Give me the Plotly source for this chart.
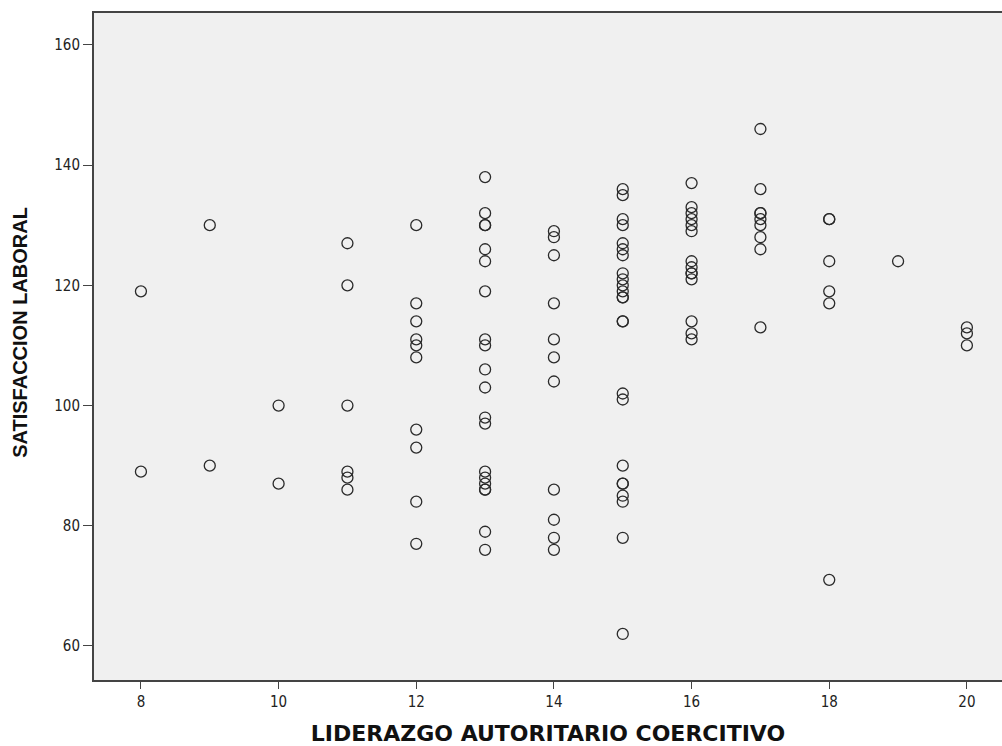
import plotly.graph_objects as go

# Data: x = LIDERAZGO AUTORITARIO COERCITIVO, y = SATISFACCION LABORAL
col8 = [119, 89]
col9 = [130, 90]
col10 = [100, 87]
col11 = [127, 120, 100, 89, 88, 86]
col12 = [130, 117, 114, 111, 110, 108, 96, 93, 84, 77]
col13 = [138, 132, 130, 130, 126, 124, 119, 111, 110, 106, 103, 98, 97, 89, 88, 87, 86, 86, 79, 76]
col14 = [129, 128, 125, 117, 111, 108, 104, 86, 81, 78, 76]
col15 = [136, 135, 131, 130, 127, 126, 125, 122, 121, 120, 119, 118, 118, 114, 114, 102, 101,
         90, 87, 87, 85, 84, 78, 62]
col16 = [137, 133, 132, 131, 130, 129, 124, 123, 122, 122, 121, 114, 112, 111]
col17 = [146, 136, 132, 132, 131, 130, 128, 126, 113]
col18 = [131, 131, 124, 119, 117, 71]
col19 = [124]
col20 = [113, 112, 110]

columns = {8: col8, 9: col9, 10: col10, 11: col11, 12: col12, 13: col13, 14: col14,
           15: col15, 16: col16, 17: col17, 18: col18, 19: col19, 20: col20}

xs, ys = [], []
for k, vals in columns.items():
    xs += [k] * len(vals)
    ys += vals

x_ticks = [8, 10, 12, 14, 16, 18, 20]
y_ticks = [60, 80, 100, 120, 140, 160]

TICKFONT = "DejaVu Sans Condensed, Liberation Sans Narrow, Liberation Sans, Arial, sans-serif"
XTITLEFONT = "DejaVu Sans, Liberation Sans, Arial, sans-serif"
YTITLEFONT = "Liberation Sans, Arial, sans-serif"

fig = go.Figure(go.Scatter(
    x=xs, y=ys, mode="markers",
    marker=dict(symbol="circle-open", size=11, color="#2a2a2a", line=dict(width=1.3)),
    hoverinfo="x+y",
))

fig.update_layout(
    width=1002, height=746,
    paper_bgcolor="white", plot_bgcolor="#f0f0f0",
    margin=dict(l=94, r=0, t=13, b=66),
    showlegend=False,
    font=dict(family=TICKFONT, size=13, color="#222"),
    annotations=[dict(
        text="<b>SATISFACCION LABORAL</b>", textangle=-90,
        xref="paper", yref="paper", x=-0.0815, y=0.522,
        xanchor="center", yanchor="middle", showarrow=False,
        font=dict(family=YTITLEFONT, size=20, color="#111"),
    )],
)

fig.update_xaxes(
    range=[7.318, 20.51], tickvals=x_ticks, ticktext=[str(v) for v in x_ticks],
    showgrid=False, zeroline=False,
    showline=True, linecolor="#444", linewidth=2, mirror=True,
    ticks="outside", ticklen=7, tickwidth=1.2, tickcolor="#444",
    tickfont=dict(family=TICKFONT, size=15, color="#222"),
    title=dict(text="<b>LIDERAZGO AUTORITARIO COERCITIVO</b>",
               font=dict(family=XTITLEFONT, size=22, color="#111"), standoff=16),
)
fig.update_yaxes(
    range=[54.34, 165.3], tickvals=y_ticks, ticktext=[str(v) for v in y_ticks],
    showgrid=False, zeroline=False,
    showline=True, linecolor="#444", linewidth=2,
    ticks="outside", ticklen=9, tickwidth=1.2, tickcolor="#444",
    tickfont=dict(family=TICKFONT, size=15, color="#222"),
)

fig.write_html("out.html")
